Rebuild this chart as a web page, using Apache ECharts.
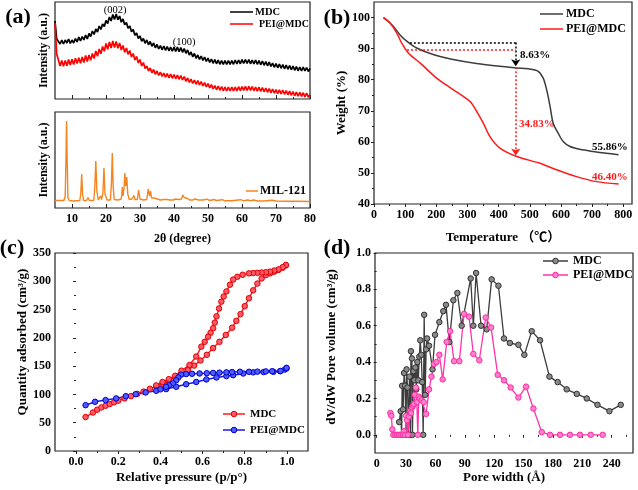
<!DOCTYPE html>
<html><head><meta charset="utf-8">
<script src="https://cdn.jsdelivr.net/npm/echarts@6/dist/echarts.min.js"></script>
<style>html,body{margin:0;padding:0;background:#fff}#c{width:638px;height:490px}</style>
</head><body><div id="c"></div>
<script>
// ---------- (a) XRD, top: sampled every 0.5 degree from 5 to 80 ----------
const xrdStart = 5, xrdStep = 0.5;
const xrdMDC = [
 78,60,58,55,59,55,59,56,60,55.5,
 59,56,60.5,57,62,58,62.5,59,64,60,
 65.5,62.5,68,64.5,70,67,73,69.5,75,72.5,
 78.5,75.5,82,78,84.5,79.5,85,79.3,83,76.8,
 80,74.2,76.5,70.7,73,67.2,69.5,63.7,66,60.5,
 63,57.7,60.5,55.7,59,54.2,57.5,52.7,56,51.2,
 54.5,50,53.5,49.2,53,48.7,52.5,48.2,52,47.7,
 52,47.5,52,47.2,51.5,46.7,50.5,45.7,49,44,
 47,42.2,45.5,40.7,44,39.5,43,38.5,42,37.5,
 41,36.5,40,35.7,39.5,35.2,39,34.7,38.5,34.5,
 38.5,34.5,38.5,34.5,38.5,34.7,39,35,39,35.2,
 39.5,35.5,39.5,35.5,39.5,35.2,39,35,39,34.7,
 38.5,34.2,38,33.7,37.5,33.2,37,32.5,36,31.7,
 35.5,31.2,35,30.7,34.5,30.2,34,29.7,33.5,29.2,
 33,28.7,32.5,28.2,32,28,32,28,31.5,27.5,
 30.5];
const xrdPEI = [
 76,45,39,33,38.5,32.7,38.5,33.2,39.5,33.9,
 39.8,34.5,40.8,35.5,41.3,35.7,42,36.5,43.5,37.5,
 44,38.7,45.5,40.5,48,42.7,50,45.2,52.5,47.7,
 55.5,49.7,57,51,58,51.5,57.5,50.7,56,49,
 53.5,46.7,51,44.7,48.5,42,45.5,39,42.5,36,
 39.5,33,36.5,30.5,33,28,31,26.2,29.5,24.7,
 28,23.5,27,22.5,26,21.7,25.5,21.2,25,20.7,
 24.5,20.2,24,19.7,23.5,19,22.5,17.7,21,16.5,
 20,15.5,19,14.7,18.5,14,17.5,13,16.5,12,
 15.5,11,14.5,10,13.5,9.2,13,8.7,12.5,8.2,
 12,8,12,8,12,8,12,8.1,12.3,8.4,
 12.5,8.6,12.7,8.7,12.7,8.6,12.5,8.2,12,7.9,
 11.8,7.6,11.5,7.2,11,6.7,10.5,6.2,10,5.7,
 9.5,5.3,9.2,5.1,9,4.7,8.5,4.2,8,3.7,
 7.5,3.2,7,2.8,6.7,2.5,6.3,2.1,6,1.7,
 4.5];
// ---------- (a) XRD, bottom: MIL-121 ----------
const milAngle = [
 5,7.6,8.0,8.2,8.4,8.6,8.8,9.2,10.5,12.3,
 12.6,12.85,13.1,13.4,14.3,14.7,15.1,16.4,16.7,17.0,
 17.3,17.7,18.1,18.4,18.7,19.1,19.4,19.7,20.3,21.3,
 21.6,21.85,22.1,22.4,23.5,24.5,24.8,25.0,25.3,25.55,
 25.8,26.1,26.4,26.8,27.5,27.9,28.2,28.5,29.2,29.6,
 30.0,31.0,32.0,32.4,32.8,33.1,33.4,33.9,34.2,34.6,
 36.0,37.0,37.4,37.9,38.8,39.3,39.8,40.4,40.9,41.4,
 42.2,42.6,43.0,43.5,44.0,44.6,45.5,46.2,46.7,47.2,
 48.5,49.7,50.5,51.8,52.5,54.2,55.0,57.0,59.6,60.5,
 61.8,62.5,63.5,64.5,66.5,68.8,70.0,73.0,76.0,80.0];
const milInt = [
 7.5,7.5,12,45,87,45,10,7.5,7,7.5,
 15,34,14,7.5,7.5,10.5,7.5,7.5,20,47,
 18,8,8,12,8.5,15,40,14,8,8,
 25,55,22,8.5,8,9,21,12,20,35,
 22,31,14,9,8.5,9,12.5,8.5,8.5,18,
 9,8,8.5,19,12,17,10,8.5,10,8,
 8,8.5,10.5,8.5,8,9.5,8,9,10.5,8.5,
 9,13,10.5,11.5,9.5,8,8,9,10.5,8,
 8,8.8,7.5,8.5,7.5,8.3,7.2,7.3,8.3,7.2,
 8,7.2,8,7,7,7.8,7,6.8,6.8,6.5];
// ---------- (b) TGA ----------
const tgaMdcT = [30,45,62,83,105,137,190,254,329,404,458,495,527,543,554,565,575,591,607,629,661,703,746,785];
const tgaMdcW = [100,98.8,97.2,94.5,92.4,90.2,88.1,86.5,85.2,84.3,83.8,83.5,82.7,80.5,76.8,71.4,66,62.8,60.1,58.5,57.6,56.9,56.3,55.86];
const tgaPeiT = [32,51,72.7,88.8,110,147.6,201,254,286.5,310,329.4,350.7,372,404,458,532.6,586,650,714,785];
const tgaPeiW = [100,98.3,95.1,91.8,88.6,85.4,80.5,76.8,74.6,72.8,69.8,66,61.7,58,55.3,53.1,51,48.8,47.2,46.4];
// ---------- (c) N2 isotherms ----------
const mdcAdsP = [0.045,0.08,0.10,0.12,0.14,0.16,0.18,0.20,0.23,0.26,0.29,0.32,0.35,0.38,0.41,0.44,0.47,0.50,0.53,0.56,0.59,0.62,0.65,0.68,0.71,0.74,0.76,0.78,0.80,0.82,0.84,0.86,0.88,0.90,0.92,0.94,0.96,0.98,0.995];
const mdcAdsQ = [60,68,73,77,80,83,86,89,93,97,101,105,110,114,119,124,130,136,143,151,160,170,182,193,205,218,230,242,256,270,284,296,305,311,314,317,320,324,328];
const mdcDesP = [0.995,0.98,0.96,0.94,0.92,0.90,0.88,0.86,0.84,0.82,0.79,0.765,0.745,0.73,0.713,0.70,0.689,0.678,0.666,0.658,0.65,0.638,0.626,0.61,0.594,0.57,0.538,0.50,0.47,0.44,0.41,0.38];
const mdcDesQ = [329,325,321,319,317,316,315.5,315,314.5,314,311.5,308,303,294,282,273,264,252,238,227,217,209,202,193,184.5,167,152,142,133,127,122,116];
const peiAdsP = [0.045,0.09,0.14,0.19,0.236,0.283,0.33,0.38,0.427,0.475,0.522,0.57,0.618,0.666,0.713,0.745,0.793,0.84,0.889,0.936,0.968,0.99,0.998];
const peiAdsQ = [81,87,90,93,97,100.5,103.5,106.4,109.4,113.5,118,122,126.5,130,132.4,134,137,139,139.5,140,141,144,146];
const peiDesP = [0.998,0.97,0.93,0.9,0.86,0.82,0.777,0.74,0.713,0.68,0.65,0.62,0.586,0.55,0.522,0.498,0.485,0.475,0.459,0.44,0.427,0.40];
const peiDesQ = [147,141.5,141,140.7,140.3,140,140,139.5,139,138.5,138,137.5,137,136.5,136,135,130,125,119.5,116,113.5,109];
// ---------- (d) pore size distribution ----------
const poreMdcW = [23,24.5,25.5,26,27,28,29,30,30.5,31.5,32.5,33.5,34.5,35,36,36.5,37.5,38.5,39.5,40.5,41.5,42.5,43.5,44.5,45.5,46.5,47.5,48.5,49.5,50.5,51.5,53.5,57,59.6,64,68,70.8,74.2,78.3,82.4,86.8,96,98.7,101.5,106.6,112.3,117.4,124.3,130,136,144.7,150.8,158.3,166.8,176.4,184.8,194,204.3,214.5,225.4,237.6,249.2];
const poreMdcV = [0.07,0.13,0.0,0.27,0.14,0.34,0.27,0.0,0.36,0.26,0.0,0.32,0.0,0.46,0.42,0.0,0.35,0.3,0.37,0.25,0.4,0.3,0.43,0.52,0.44,0.29,0.0,0.66,0.22,0.47,0.53,0.49,0.36,0.55,0.62,0.68,0.715,0.51,0.74,0.78,0.6,0.86,0.6,0.89,0.6,0.58,0.855,0.82,0.53,0.505,0.495,0.44,0.57,0.52,0.32,0.29,0.25,0.225,0.2,0.165,0.13,0.165];
const porePeiW = [14,15,16,17,19,21,23,25,27,28,29,30,31,32,33,34,35,36,37,38,39,40,41,42,43,44,46,48,50.5,53.5,56,58.5,61,64,67.4,71.5,74.9,79,84.4,89.2,94.3,98.7,104.8,111.3,116.8,123.6,130,136.8,144.7,152.5,160,168.5,177,187.2,197.4,207.6,218.5,230.8];
const porePeiV = [0.12,0.105,0.03,0,0,0,0,0,0,0.02,0,0.105,0.08,0,0.1,0.13,0.12,0.15,0.16,0.17,0.22,0.26,0.18,0,0.21,0.2,0.19,0.18,0.115,0.25,0.32,0.39,0.4,0.44,0.305,0.51,0.57,0.405,0.405,0.665,0.65,0.445,0.41,0.645,0.59,0.33,0.3,0.26,0.205,0.265,0.145,0.015,0,0,0,0,0,0];
// ---------- tick labels ----------
const xrdTicks = [10,20,30,40,50,60,70,80];
const xrdMinor = [15,25,35,45,55,65,75];
const tgaXTicks = [0,100,200,300,400,500,600,700,800];
const tgaXMinor = [50,150,250,350,450,550,650,750];
const tgaYTicks = [40,50,60,70,80,90,100];
const tgaYMinor = [45,55,65,75,85,95];
const betXTicks = [0,0.2,0.4,0.6,0.8,1.0];
const betXMinor = [0.1,0.3,0.5,0.7,0.9];
const betYTicks = [0,50,100,150,200,250,300,350];
const betYMinor = [25,75,125,175,225,275,325];
const poreXTicks = [0,30,60,90,120,150,180,210,240];
const poreXMinor = [15,45,75,105,135,165,195,225,255];
const poreYTicks = [0,0.2,0.4,0.6,0.8,1.0];
const poreYMinor = [0.1,0.3,0.5,0.7,0.9];

const FONT = '"Liberation Serif","Times New Roman","Noto Sans CJK SC",serif';
const zip = (a, b) => a.map((v, i) => [v, b[i]]);
const xrdAng = xrdMDC.map((_, i) => xrdStart + i * xrdStep);
const tstyle = (size, color) => ({fontFamily: FONT, fontSize: size, fontWeight: 'bold', color: color || '#000'});

function ax(g, min, max, o) {
  o = o || {};
  const a = {type: 'value', gridIndex: g, min, max, splitLine: {show: false}, axisLine: {show: false},
    axisLabel: {show: false}, axisTick: {show: false}, silent: true};
  if (o.pos) a.position = o.pos;
  if (o.ticks) a.axisTick = {show: true, inside: !!o.inside, length: o.len || 3, customValues: o.ticks, lineStyle: {color: '#222', width: 1}};
  if (o.labels) a.axisLabel = Object.assign({show: true, customValues: o.labels, margin: o.margin || 5, formatter: o.fmt}, tstyle(o.lsize || 12));
  if (o.name) {
    a.name = o.name; a.nameLocation = 'middle'; a.nameGap = o.gap;
    a.nameTextStyle = Object.assign(tstyle(o.nsize || 13), o.npad ? {padding: o.npad} : {});
  }
  return a;
}
const f1 = v => v.toFixed(1);

const xAxis = [
  ax(0, 5, 80, {ticks: xrdTicks, inside: true, len: 4, pos: 'bottom'}),
  ax(0, 5, 80, {ticks: xrdMinor, inside: true, len: 2, pos: 'bottom'}),
  ax(1, 5, 80, {ticks: xrdTicks, inside: true, len: 4, labels: xrdTicks, margin: 5, name: '2θ (degree)', gap: 25, nsize: 12, pos: 'bottom'}),
  ax(1, 5, 80, {ticks: xrdMinor, inside: true, len: 2, pos: 'bottom'}),
  ax(2, 0, 828, {ticks: tgaXTicks, len: 3, labels: tgaXTicks, margin: 5, name: 'Temperature （℃）', gap: 27, pos: 'bottom'}),
  ax(2, 0, 828, {ticks: tgaXMinor, len: 2, pos: 'bottom'}),
  ax(3, -0.1, 1.1, {ticks: betXTicks, len: 3, labels: betXTicks, fmt: f1, margin: 5, name: 'Relative pressure (p/p°)', gap: 20, pos: 'bottom'}),
  ax(3, -0.1, 1.1, {ticks: betXMinor, len: 2, pos: 'bottom'}),
  ax(4, -1.7, 261.7, {ticks: poreXTicks, len: 3, labels: poreXTicks, margin: 5, name: 'Pore width (Å)', gap: 18, pos: 'bottom'}),
  ax(4, -1.7, 261.7, {ticks: poreXMinor, len: 2, pos: 'bottom'})
];
const yAxis = [
  ax(0, 0, 97, {name: 'Intensity (a.u.)', gap: 5, nsize: 12, pos: 'left'}),
  ax(1, 0, 96, {name: 'Intensity (a.u.)', gap: 5, nsize: 12, pos: 'left'}),
  ax(2, 40, 105, {ticks: tgaYTicks, len: 3, labels: tgaYTicks, margin: 4, name: 'Weight (%)', gap: 25, pos: 'left'}),
  ax(2, 40, 105, {ticks: tgaYMinor, len: 2, pos: 'left'}),
  ax(3, 0, 350, {ticks: betYTicks, len: 3, labels: betYTicks, margin: 4, name: 'Quantity adsorbed (cm³/g)', gap: 22, npad: [0, 0, 0, 20], pos: 'left'}),
  ax(3, 0, 350, {ticks: betYMinor, len: 2, pos: 'left'}),
  ax(4, -0.1, 1.0, {ticks: poreYTicks, len: 3, labels: poreYTicks, fmt: f1, margin: 4, name: 'dV/dW Pore volume (cm³/g)', gap: 37, npad: [0, 0, 0, 12], pos: 'left'}),
  ax(4, -0.1, 1.0, {ticks: poreYMinor, len: 2, pos: 'left'})
];

const gb = {show: true, borderColor: '#222', borderWidth: 1.2, backgroundColor: 'transparent'};
const grid = [
  Object.assign({left: 55, top: 2, width: 255, height: 97}, gb),
  Object.assign({left: 55, top: 112, width: 255, height: 96}, gb),
  Object.assign({left: 374, top: 2, width: 258, height: 202}, gb),
  Object.assign({left: 55, top: 253, width: 253, height: 198}, gb),
  Object.assign({left: 375, top: 253, width: 258, height: 200}, gb)
];

const RED = '#FF1A1A', BLUE = '#1A1AE6', PINK = '#FF33AA', DARK = '#3C3C3C', ORANGE = '#F7851E';
const dotted = (c) => ({color: c, type: [2, 2], width: 1.5});
const ln = (xi, yi, data, color, w, extra) => Object.assign({type: 'line', xAxisIndex: xi, yAxisIndex: yi, data,
  showSymbol: false, symbol: 'none', lineStyle: {color, width: w}, itemStyle: {color}, silent: true}, extra || {});
const sym = (fill, stroke) => ({showSymbol: true, symbol: 'circle', symbolSize: 5.5, itemStyle: {color: fill, borderColor: stroke, borderWidth: 1}});

const series = [
  ln(0, 0, zip(xrdAng, xrdMDC), '#000', 1.7),
  ln(0, 0, zip(xrdAng, xrdPEI), '#FF0000', 1.7),
  ln(2, 1, zip(milAngle, milInt), ORANGE, 1.4),
  ln(4, 2, zip(tgaMdcT, tgaMdcW), DARK, 1.5, {smooth: 0.3, markLine: {silent: true, symbol: ['none', 'none'], label: {show: false},
    data: [
      [{coord: [115, 92], lineStyle: dotted('#000')}, {coord: [455, 92]}],
      [{coord: [455, 92], lineStyle: dotted('#000')}, {coord: [455, 84.3], symbol: 'arrow', symbolSize: 7}],
      [{coord: [106, 89.7], lineStyle: dotted('#FF1A1A')}, {coord: [455, 89.7]}],
      [{coord: [455, 84], lineStyle: dotted('#FF1A1A')}, {coord: [455, 55.6], symbol: 'arrow', symbolSize: 7}]
    ]}}),
  ln(4, 2, zip(tgaPeiT, tgaPeiW), RED, 1.5, {smooth: 0.3}),
  ln(6, 4, zip(mdcAdsP, mdcAdsQ), RED, 1.5, sym('#FF5A6A', '#E00000')),
  ln(6, 4, zip(mdcDesP, mdcDesQ), RED, 1.5, sym('#FF5A6A', '#E00000')),
  ln(6, 4, zip(peiAdsP, peiAdsQ), BLUE, 1.5, sym('#4F5BFF', '#0000C8')),
  ln(6, 4, zip(peiDesP, peiDesQ), BLUE, 1.5, sym('#4F5BFF', '#0000C8')),
  ln(8, 6, zip(poreMdcW, poreMdcV), DARK, 1.3, sym('#8A8A8A', '#303030')),
  ln(8, 6, zip(porePeiW, porePeiV), PINK, 1.3, sym('#FF80CC', '#FF2AA0'))
];

const T = (x, y, text, size, color, align, weight) => ({type: 'text', x, y, silent: true,
  style: {text, fill: color || '#000', font: (weight || 'bold') + ' ' + size + 'px ' + FONT,
    align: align || 'left', verticalAlign: 'middle', textAlign: align || 'left', textVerticalAlign: 'middle'}});
const L = (x1, x2, y, color, w) => ({type: 'line', silent: true, shape: {x1, y1: y, x2, y2: y}, style: {stroke: color, lineWidth: w || 1.5}});
const C = (cx, cy, fill, stroke) => ({type: 'circle', silent: true, shape: {cx, cy, r: 2.8}, style: {fill, stroke, lineWidth: 1}});

const graphic = [
  T(18, 17, '(a)', 22, '#000', 'center'),
  T(337, 18, '(b)', 22, '#000', 'center'),
  T(12, 248, '(c)', 22, '#000', 'center'),
  T(337, 248, '(d)', 22, '#000', 'center'),
  // (a) legends and peak labels
  L(230, 253, 12, '#000'), T(255, 12, 'MDC', 10.5),
  L(230, 253, 24, '#FF0000'), T(259, 24, 'PEI@MDC', 10),
  T(115, 10, '(002)', 10.5, '#000', 'center', 'normal'),
  T(184, 42, '(100)', 10.5, '#000', 'center', 'normal'),
  L(246, 258, 191, ORANGE), T(260, 191, 'MIL-121', 12),
  // (b) legend and percentages
  L(540, 563, 14, DARK), T(566, 14, 'MDC', 12),
  L(540, 563, 29, RED), T(566, 29, 'PEI@MDC', 12),
  T(520, 55, '8.63%', 11),
  T(519, 124, '34.83%', 11, RED),
  T(592, 147, '55.86%', 11),
  T(592, 177, '46.40%', 11, RED),
  // (c) legend
  L(223, 245, 414, RED), C(234, 414, '#FF5A6A', '#E00000'), T(250, 414, 'MDC', 11),
  L(223, 245, 430, BLUE), C(234, 430, '#4F5BFF', '#0000C8'), T(250, 430, 'PEI@MDC', 11),
  // (d) legend
  L(543, 568, 261, DARK), C(555.5, 261, '#8A8A8A', '#303030'), T(573, 261, 'MDC', 12),
  L(543, 568, 275, PINK), C(555.5, 275, '#FF80CC', '#FF2AA0'), T(573, 275, 'PEI@MDC', 12)
];

const chart = echarts.init(document.getElementById('c'), null, {renderer: 'canvas'});
chart.setOption({animation: false, backgroundColor: '#fff', textStyle: {fontFamily: FONT},
  grid, xAxis, yAxis, series, graphic});
</script></body></html>
